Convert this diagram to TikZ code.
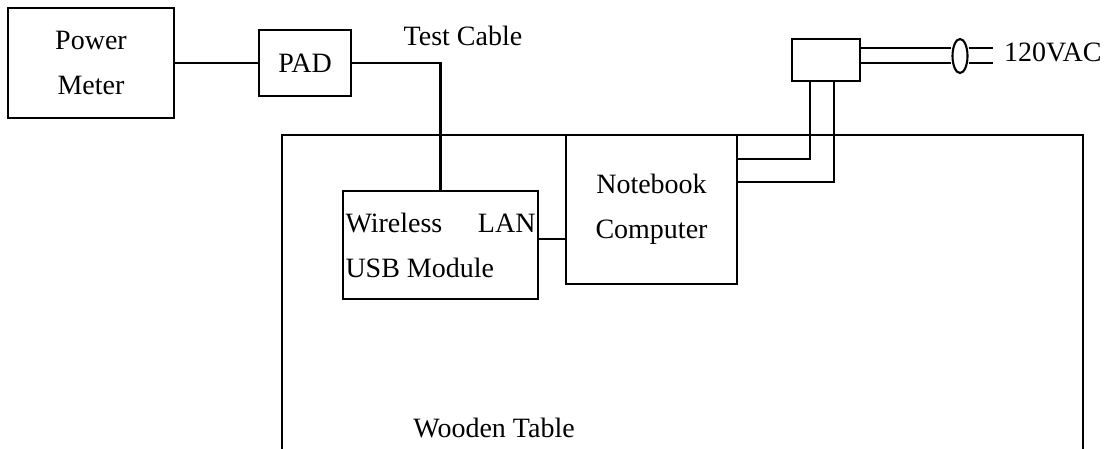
\documentclass[tikz,border=0pt]{standalone}
\usepackage{fontspec}
\setmainfont{Liberation Serif}
\usetikzlibrary{shapes.geometric}

\begin{document}
\begin{tikzpicture}[x=1pt,y=-1pt,line width=2.1pt,
  font=\fontsize{28}{45}\selectfont,
  box/.style={draw, inner sep=0pt, align=center}]
\useasboundingbox (0,0) rectangle (1115,448);

\draw (282,470) -- (282,135) -- (1083,135) -- (1083,470);
\node (table) at (494,428) {Wooden Table};

\node[box, minimum width=166pt, minimum height=110pt] (meter) at (91,63) {Power\\Meter};
\node[box, minimum width=92pt, minimum height=66pt] (pad) at (305,63) {PAD};
\node (cable) at (463,36) {Test Cable};
\node[box, minimum width=195pt, minimum height=108pt] (wlan) at (440.5,245)
  {\makebox[190pt][s]{Wireless\hfill LAN}\\\makebox[190pt][l]{USB Module}};
\node[box, minimum width=171pt, minimum height=149pt] (nb) at (651.5,209.5) {Notebook\\Computer};
\node[box, minimum width=68pt, minimum height=42pt] (plug) at (826,60) {};
\node[draw, ellipse, inner sep=0pt, minimum width=15pt, minimum height=34pt] (cord) at (960,56) {};
\coordinate (plugend) at (993,56);
\node[anchor=west, inner sep=0pt] (vac) at (1003,52) {120VAC};

\draw (pad.west) -- (pad.west -| meter.east);
\draw (pad.east) -| (wlan.north);
\draw ([yshift=6pt]wlan.east) -- ([yshift=6pt]wlan.east -| nb.west);
\draw ([yshift=50.5pt]nb.east) -| ([xshift=-16pt]plug.south);
\draw ([yshift=27.5pt]nb.east) -| ([xshift=8pt]plug.south);
\draw ([yshift=12pt]plug.east) -- ([yshift=12pt]plug.east -| cord.west);
\draw ([yshift=-3pt]plug.east) -- ([yshift=-3pt]plug.east -| cord.west);
\draw ([yshift=8pt]cord.east) -- ([yshift=8pt]cord.east -| plugend);
\draw ([yshift=-7pt]cord.east) -- ([yshift=-7pt]cord.east -| plugend);
\end{tikzpicture}
\end{document}
